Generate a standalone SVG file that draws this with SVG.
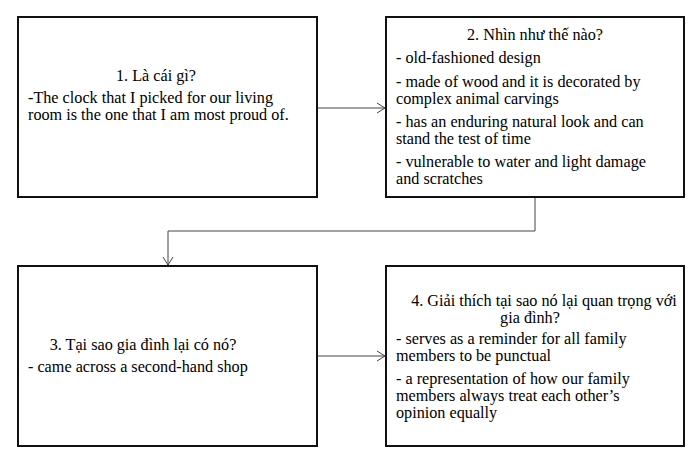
<svg xmlns="http://www.w3.org/2000/svg" width="700" height="469" viewBox="0 0 700 469">
<style>
.box{fill:#fff;stroke:#111;stroke-width:2}
.ln{fill:none;stroke:#444;stroke-width:1}
</style>
<rect width="700" height="469" fill="#fff"/>
<g id="connectors">
<path class="ln" d="M317,108 H385"/>
<path class="ln" d="M377,103 L385,108 L377,113"/>
<path class="ln" d="M535,197 V231 H168 V265"/>
<path class="ln" d="M163,257 L168,265 L173,257"/>
<path class="ln" d="M317,356 H385"/>
<path class="ln" d="M377,351 L385,356 L377,361"/>
</g>
<g id="node1">
<rect class="box" x="18" y="17" width="299" height="180"/>
<text x="156" y="81" text-anchor="middle" font-family="Liberation Serif" font-size="16.2">1. Là cái gì?</text>
<text x="28" y="103" font-family="Liberation Serif" font-size="16.2">-The clock that I picked for our living</text>
<text x="28" y="120" font-family="Liberation Serif" font-size="16.2">room is the one that I am most proud of.</text>
</g>
<g id="node2">
<rect class="box" x="386" y="17" width="298" height="180"/>
<text x="535" y="40" text-anchor="middle" font-family="Liberation Serif" font-size="16.2">2. Nhìn như thế nào?</text>
<text x="396" y="63" font-family="Liberation Serif" font-size="16.2">- old-fashioned design</text>
<text x="396" y="87" font-family="Liberation Serif" font-size="16.2">- made of wood and it is decorated by</text>
<text x="396" y="104" font-family="Liberation Serif" font-size="16.2">complex animal carvings</text>
<text x="396" y="127" font-family="Liberation Serif" font-size="16.2">- has an enduring natural look and can</text>
<text x="396" y="144" font-family="Liberation Serif" font-size="16.2">stand the test of time</text>
<text x="396" y="167" font-family="Liberation Serif" font-size="16.2">- vulnerable to water and light damage</text>
<text x="396" y="184" font-family="Liberation Serif" font-size="16.2">and scratches</text>
</g>
<g id="node3">
<rect class="box" x="18" y="266" width="299" height="180"/>
<text x="143" y="350" text-anchor="middle" font-family="Liberation Serif" font-size="16.2">3. Tại sao gia đình lại có nó?</text>
<text x="28" y="372" font-family="Liberation Serif" font-size="16.2">- came across a second-hand shop</text>
</g>
<g id="node4">
<rect class="box" x="386" y="266" width="298" height="180"/>
<text x="544" y="306" text-anchor="middle" font-family="Liberation Serif" font-size="16.2">4. Giải thích tại sao nó lại quan trọng với</text>
<text x="530" y="323" text-anchor="middle" font-family="Liberation Serif" font-size="16.2">gia đình?</text>
<text x="396" y="344" font-family="Liberation Serif" font-size="16.2">- serves as a reminder for all family</text>
<text x="396" y="361" font-family="Liberation Serif" font-size="16.2">members to be punctual</text>
<text x="396" y="384" font-family="Liberation Serif" font-size="16.2">- a representation of how our family</text>
<text x="396" y="401" font-family="Liberation Serif" font-size="16.2">members always treat each other’s</text>
<text x="396" y="418" font-family="Liberation Serif" font-size="16.2">opinion equally</text>
</g>
</svg>
